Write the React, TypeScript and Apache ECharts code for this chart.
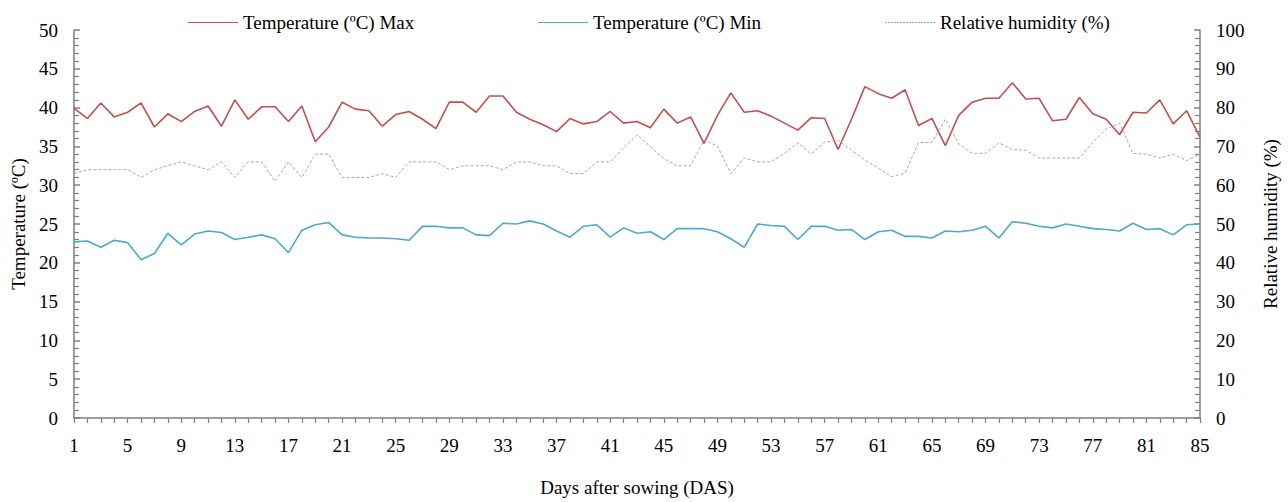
import React, { useEffect, useRef } from "react";
import * as echarts from "echarts";

const days: string[] = Array.from({ length: 85 }, (_, i) => String(i + 1));

const tMax: number[] = [
  39.9, 38.6, 40.6, 38.8, 39.4, 40.6, 37.5, 39.2, 38.2, 39.5,
  40.2, 37.6, 41.0, 38.5, 40.1, 40.1, 38.2, 40.2, 35.6, 37.5,
  40.7, 39.8, 39.6, 37.6, 39.1, 39.5, 38.5, 37.3, 40.7, 40.7,
  39.4, 41.5, 41.5, 39.4, 38.5, 37.8, 36.9, 38.6, 37.9, 38.2,
  39.5, 38.0, 38.2, 37.4, 39.8, 38.0, 38.8, 35.4, 39.0, 41.9,
  39.4, 39.6, 38.9, 38.0, 37.1, 38.7, 38.6, 34.6, 38.5, 42.7,
  41.8, 41.2, 42.3, 37.7, 38.6, 35.1, 39.0, 40.7, 41.2, 41.2,
  43.2, 41.1, 41.2, 38.3, 38.5, 41.3, 39.2, 38.5, 36.5, 39.4,
  39.3, 41.0, 37.9, 39.6, 36.2,
];

const tMin: number[] = [
  22.7, 22.8, 22.0, 22.9, 22.6, 20.4, 21.2, 23.8, 22.3, 23.7,
  24.1, 23.9, 23.0, 23.3, 23.6, 23.1, 21.3, 24.2, 24.9, 25.2,
  23.6, 23.3, 23.2, 23.2, 23.1, 22.9, 24.7, 24.7, 24.5, 24.5,
  23.6, 23.5, 25.1, 25.0, 25.4, 25.0, 24.1, 23.3, 24.7, 24.9,
  23.3, 24.5, 23.8, 24.0, 23.0, 24.4, 24.4, 24.4, 24.0, 23.1,
  22.0, 25.0, 24.8, 24.7, 23.0, 24.7, 24.7, 24.2, 24.3, 23.0,
  24.0, 24.2, 23.4, 23.4, 23.2, 24.1, 24.0, 24.2, 24.7, 23.2,
  25.3, 25.1, 24.7, 24.5, 25.0, 24.7, 24.4, 24.3, 24.1, 25.1,
  24.3, 24.4, 23.6, 24.9, 25.0,
];

const humidity: number[] = [
  63, 64, 64, 64, 64, 62, 64, 65, 66, 65,
  64, 66, 62, 66, 66, 61, 66, 62, 68, 68,
  62, 62, 62, 63, 62, 66, 66, 66, 64, 65,
  65, 65, 64, 66, 66, 65, 65, 63, 63, 66,
  66, 69.6, 73, 69.9, 66.9, 65, 65, 71.6, 70.1, 63,
  67, 66, 66, 68.2, 70.9, 68, 71.1, 71.6, 69, 66.5,
  64.4, 62.2, 63.1, 71, 71, 77, 70.7, 68.2, 68.2, 70.9,
  69.2, 69, 67, 67, 67, 67, 71, 74.5, 76, 68.2,
  68, 67, 68, 66.3, 68,
];

const leftTicks = { min: 0, max: 50, interval: 5 };
const rightTicks = { min: 0, max: 100, interval: 10 };

const FONT = "'Liberation Serif', 'Times New Roman', serif";
const AXIS_COLOR = "#7f7f7f";

// legend icons: a solid thin bar, and a dotted bar
const SOLID_ICON = "path://M0,0h50v1h-50z";
const DOTTED_ICON =
  "path://" +
  Array.from({ length: 17 }, (_, i) => `M${i * 3},0h2v1h-2z`).join("");

export default function App() {
  const ref = useRef<HTMLDivElement>(null);

  useEffect(() => {
    if (!ref.current) return;
    const chart = echarts.init(ref.current, undefined, { renderer: "svg" });
    const legendText = { fontFamily: FONT, fontSize: 19, color: "#000" };
    const legendBase = {
      top: 8,
      itemWidth: 50,
      itemHeight: 1.5,
      itemGap: 0,
      textStyle: legendText,
    };
    const yAxisCommon = {
      type: "value" as const,
      splitLine: { show: false },
      axisLine: { show: true, lineStyle: { color: AXIS_COLOR, width: 1.5 } },
      axisTick: { show: true, inside: true, length: 6, lineStyle: { color: AXIS_COLOR, width: 1.5 } },
      minorTick: { show: true, splitNumber: 5, length: 5, lineStyle: { color: AXIS_COLOR, width: 1.2 } },
      axisLabel: { fontFamily: FONT, fontSize: 19, color: "#000", margin: 16 },
      nameLocation: "middle" as const,
      nameTextStyle: { fontFamily: FONT, fontSize: 19, color: "#000" },
    };
    chart.setOption({
      animation: false,
      backgroundColor: "#fff",
      grid: { left: 74, right: 78, top: 30, bottom: 79, containLabel: false },
      legend: [
        { ...legendBase, left: 183, data: [{ name: "Temperature (ºC) Max", icon: SOLID_ICON }] },
        { ...legendBase, left: 533, data: [{ name: "Temperature (ºC) Min", icon: SOLID_ICON }] },
        { ...legendBase, left: 880, data: [{ name: "Relative humidity (%)", icon: DOTTED_ICON }] },
      ],
      xAxis: {
        type: "category",
        data: days,
        boundaryGap: false,
        name: "Days after sowing (DAS)",
        nameLocation: "middle",
        nameGap: 60,
        nameTextStyle: { fontFamily: FONT, fontSize: 19, color: "#000" },
        axisLine: { show: true, lineStyle: { color: AXIS_COLOR, width: 1.5 } },
        axisTick: { show: true, interval: 0, length: 5, lineStyle: { color: AXIS_COLOR, width: 1.2 } },
        axisLabel: { interval: 3, fontFamily: FONT, fontSize: 19, color: "#000", margin: 18 },
        splitLine: { show: false },
      },
      yAxis: [
        {
          ...yAxisCommon,
          ...leftTicks,
          position: "left",
          name: "Temperature (ºC)",
          nameGap: 46,
        },
        {
          ...yAxisCommon,
          ...rightTicks,
          position: "right",
          name: "Relative humidity (%)",
          nameGap: 61,
        },
      ],
      series: [
        {
          name: "Temperature (ºC) Max",
          type: "line",
          data: tMax,
          yAxisIndex: 0,
          symbol: "none",
          lineStyle: { color: "#c0504d", width: 1.6 },
          itemStyle: { color: "#c0504d" },
        },
        {
          name: "Temperature (ºC) Min",
          type: "line",
          data: tMin,
          yAxisIndex: 0,
          symbol: "none",
          lineStyle: { color: "#4bacc6", width: 1.6 },
          itemStyle: { color: "#4bacc6" },
        },
        {
          name: "Relative humidity (%)",
          type: "line",
          data: humidity,
          yAxisIndex: 1,
          symbol: "none",
          lineStyle: { color: "#a6a6a6", width: 1, type: [3, 2] },
          itemStyle: { color: "#a6a6a6" },
        },
      ],
    });
    return () => chart.dispose();
  }, []);

  return (
    <div
      ref={ref}
      style={{ position: "fixed", left: 0, top: 0, width: 1288, height: 502 }}
    />
  );
}
